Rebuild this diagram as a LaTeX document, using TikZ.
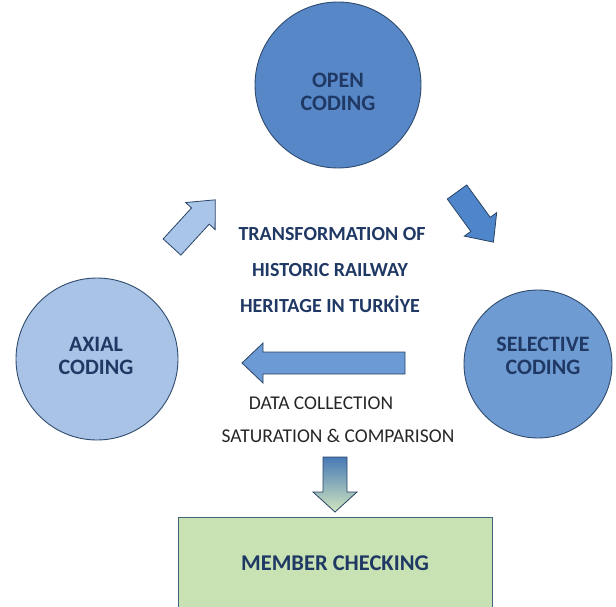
\documentclass[tikz,border=0pt]{standalone}
\usepackage{fontspec}
\setmainfont{Carlito}
\begin{document}
\definecolor{navy}{HTML}{1F3864}
\definecolor{edgeblue}{HTML}{2F4B6E}
\definecolor{openfill}{HTML}{5787C6}
\definecolor{axialfill}{HTML}{A8C3E6}
\definecolor{selfill}{HTML}{6F9BD3}
\definecolor{upfill}{HTML}{A9C5E9}
\definecolor{downfill}{HTML}{4F86CB}
\definecolor{leftfill}{HTML}{6C9AD4}
\definecolor{memberfill}{HTML}{C8E2B4}
\definecolor{memberedge}{HTML}{40657A}
\begin{tikzpicture}[x=1pt,y=-1pt,
  stage/.style={circle,draw=edgeblue,line width=0.9pt,inner sep=0pt},
  stagetext/.style={align=center,text=navy,font=\fontsize{22}{23}\selectfont\bfseries},
  titletext/.style={anchor=base,text=navy,font=\fontsize{20}{24}\selectfont\bfseries},
  datatext/.style={anchor=base,text=black!85,font=\fontsize{19.5}{24}\selectfont},
  blockarrow/.style={draw=edgeblue!90!black,line width=0.8pt,line join=miter}]
\useasboundingbox (0,0) rectangle (616,607);
\clip (0,0) rectangle (616,607);

% coding stages
\node[stage,fill=openfill,minimum size=166pt] (open) at (338,85) {};
\node[stage,fill=axialfill,minimum size=162pt] (axial) at (97,359) {};
\node[stage,fill=selfill,minimum size=148pt] (selective) at (538,364) {};
\node[stagetext] (opentext) at (338,92) {OPEN\\CODING};
\node[stagetext] (axialtext) at (96,356) {AXIAL\\CODING};
\node[stagetext] (seltext) at (543,356) {SELECTIVE\\CODING};

% central theme
\node[titletext] (t1) at (332,240) {TRANSFORMATION OF};
\node[titletext] (t2) at (330,276) {HISTORIC RAILWAY};
\node[titletext] (t3) at (330,312) {HERITAGE IN TURKİYE};

% data collection notes
\node[datatext] (d1) at (321,409) {DATA COLLECTION};
\node[datatext] (d2) at (338,442) {SATURATION \& COMPARISON};

% member checking box
\node[draw=memberedge,fill=memberfill,line width=0.9pt,anchor=north west,
      minimum width=314pt,minimum height=110pt,inner sep=0pt] (member) at (178,517) {};
\node[titletext,font=\fontsize{22.5}{24}\selectfont\bfseries] (membertext) at (335,570) {MEMBER CHECKING};

% block arrows between stages
\begin{scope}[shift={(172,247)},rotate=47.5]
  \draw[blockarrow,fill=upfill] (0,-12) -- (42,-12) -- (42,-20) -- (64,0)
    -- (42,20) -- (42,12) -- (0,12) -- cycle;
\end{scope}
\begin{scope}[shift={(457,192)},rotate=-54]
  \draw[blockarrow,fill=downfill] (0,-12) -- (40,-12) -- (40,-20) -- (62,0)
    -- (40,20) -- (40,12) -- (0,12) -- cycle;
\end{scope}
\draw[blockarrow,fill=leftfill] (405,352) -- (263,352) -- (263,343) -- (242,363)
  -- (263,383) -- (263,374) -- (405,374) -- cycle;
\draw[blockarrow,top color=downfill!90!black,bottom color=memberfill!85!white]
  (323,457) -- (347,457) -- (347,492) -- (357,492) -- (335,512)
  -- (313,492) -- (323,492) -- cycle;
\end{tikzpicture}
\end{document}
